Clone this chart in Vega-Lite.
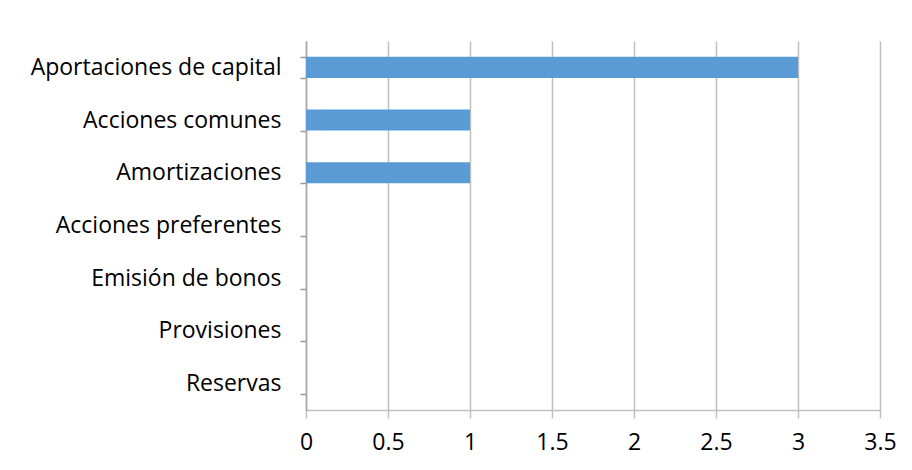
{
  "$schema": "https://vega.github.io/schema/vega-lite/v6.json",
  "width": 574,
  "height": 369,
  "autosize": {"type": "none"},
  "padding": {"left": 306, "top": 41, "right": 32, "bottom": 60},
  "background": "white",
  "data": {"values": [
    {"cat": "Aportaciones de capital", "v": 3},
    {"cat": "Acciones comunes", "v": 1},
    {"cat": "Amortizaciones", "v": 1},
    {"cat": "Acciones preferentes", "v": 0},
    {"cat": "Emisión de bonos", "v": 0},
    {"cat": "Provisiones", "v": 0},
    {"cat": "Reservas", "v": 0}
  ]},
  "mark": {"type": "bar", "color": "#5B9BD5"},
  "encoding": {
    "y": {
      "field": "cat", "type": "nominal", "sort": null,
      "scale": {"paddingInner": 0.6, "paddingOuter": 0.3},
      "axis": {
        "title": null, "grid": false, "tickBand": "extent", "tickSize": 6,
        "tickColor": "#999999", "tickWidth": 1.5, "domainColor": "#a6a6a6", "domainWidth": 1.5,
        "labelFont": "Open Sans", "labelFontSize": 23, "labelColor": "#000000", "labelPadding": 19,
        "labelLimit": 400
      }
    },
    "x": {
      "field": "v", "type": "quantitative",
      "scale": {"domain": [0, 3.5], "nice": false},
      "axis": {
        "title": null, "values": [0, 0.5, 1, 1.5, 2, 2.5, 3, 3.5], "format": "~g",
        "grid": true, "gridColor": "#bfbfbf", "gridWidth": 1.5,
        "tickSize": 8, "tickColor": "#bfbfbf", "tickWidth": 1.5,
        "domainColor": "#bfbfbf", "domainWidth": 1.5,
        "labelFont": "Open Sans", "labelFontSize": 23, "labelColor": "#000000", "labelPadding": 13,
        "labelFlush": false
      }
    }
  },
  "config": {"view": {"stroke": null}}
}
